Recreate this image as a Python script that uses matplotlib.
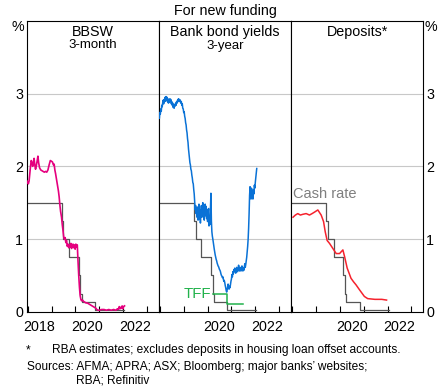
import matplotlib
matplotlib.use("Agg")
import matplotlib.pyplot as plt

plt.rcParams['font.family'] = ['Liberation Sans', 'DejaVu Sans']

# ---------------- data ----------------
panel_titles = ["BBSW", "Bank bond yields", "Deposits*"]
panel_subtitles = ["3-month", "3-year", ""]

cash_dates = [2017.96, 2019.42, 2019.50, 2019.74, 2020.15, 2020.21, 2020.27, 2020.83, 2022.05]
cash_vals = [1.5, 1.25, 1.0, 0.75, 0.5, 0.25, 0.14, 0.03, 0.03]

bbsw_dates = [2017.97, 2018.00, 2018.03, 2018.06, 2018.09, 2018.12, 2018.15, 2018.18, 2018.21,
              2018.24, 2018.27, 2018.30, 2018.33, 2018.36, 2018.40, 2018.43, 2018.46, 2018.50,
              2018.55, 2018.60, 2018.65, 2018.70, 2018.75, 2018.80, 2018.85, 2018.90, 2018.95,
              2019.00, 2019.04, 2019.08, 2019.11, 2019.14, 2019.17, 2019.20, 2019.23, 2019.26,
              2019.29, 2019.32, 2019.35, 2019.38, 2019.42, 2019.45, 2019.48, 2019.51, 2019.54,
              2019.57, 2019.60, 2019.63, 2019.66, 2019.69, 2019.72, 2019.75, 2019.78, 2019.81,
              2019.84, 2019.87, 2019.90, 2019.93, 2019.96, 2019.99, 2020.02, 2020.05, 2020.08,
              2020.11, 2020.14, 2020.17, 2020.20, 2020.23, 2020.26, 2020.30, 2020.35, 2020.40,
              2020.45, 2020.50, 2020.55, 2020.60, 2020.65, 2020.70, 2020.75, 2020.80, 2020.85,
              2020.90, 2020.95, 2021.00, 2021.10, 2021.20, 2021.30, 2021.40, 2021.50, 2021.60,
              2021.70, 2021.76, 2021.80, 2021.84, 2021.87, 2021.90, 2021.93, 2021.96, 2021.99,
              2022.02, 2022.06]
bbsw_vals = [1.80, 1.78, 1.76, 1.80, 1.90, 2.00, 2.08, 2.05, 2.00,
             2.06, 2.11, 2.02, 1.96, 2.00, 2.08, 2.14, 2.05, 1.98,
             1.95, 1.94, 1.93, 1.92, 1.93, 1.92, 1.95, 2.02, 2.08,
             2.07, 2.06, 2.02, 2.03, 1.95, 1.90, 1.84, 1.78, 1.72,
             1.66, 1.58, 1.47, 1.38, 1.30, 1.20, 1.12, 1.03, 1.00,
             1.02, 0.95, 0.98, 0.90, 0.93, 0.88, 0.92, 0.89, 0.94,
             0.87, 0.91, 0.93, 0.88, 0.92, 0.86, 0.93, 0.89, 0.92,
             0.70, 0.50, 0.34, 0.22, 0.17, 0.15, 0.16, 0.14, 0.13,
             0.12, 0.12, 0.11, 0.10, 0.09, 0.08, 0.07, 0.06, 0.05,
             0.03, 0.02, 0.02, 0.03, 0.03, 0.02, 0.03, 0.02, 0.03,
             0.02, 0.04, 0.03, 0.07, 0.04, 0.06, 0.05, 0.08, 0.04,
             0.07, 0.08]

bond_dates = [2017.96, 2017.98, 2018.00, 2018.02, 2018.04, 2018.06, 2018.08, 2018.10, 2018.12,
              2018.14, 2018.16, 2018.18, 2018.20, 2018.22, 2018.24, 2018.26, 2018.28, 2018.30,
              2018.32, 2018.34, 2018.36, 2018.38, 2018.40, 2018.42, 2018.44, 2018.46, 2018.48,
              2018.50, 2018.52, 2018.54, 2018.56, 2018.58, 2018.60, 2018.62, 2018.64, 2018.66,
              2018.68, 2018.70, 2018.72, 2018.74, 2018.76, 2018.78, 2018.80, 2018.82, 2018.84,
              2018.86, 2018.88, 2018.90, 2018.92, 2018.94, 2018.96, 2018.98, 2019.00, 2019.02,
              2019.04, 2019.06, 2019.08, 2019.10, 2019.12, 2019.14, 2019.16, 2019.18, 2019.20,
              2019.22, 2019.24, 2019.26, 2019.28, 2019.30, 2019.32, 2019.34, 2019.36, 2019.38,
              2019.40, 2019.42, 2019.44, 2019.46, 2019.48, 2019.50, 2019.52, 2019.54, 2019.56,
              2019.58, 2019.60, 2019.62, 2019.64, 2019.66, 2019.68, 2019.70, 2019.72, 2019.74,
              2019.76, 2019.78, 2019.80, 2019.82, 2019.84, 2019.86, 2019.88, 2019.90, 2019.92,
              2019.94, 2019.96, 2019.98, 2020.00, 2020.02, 2020.04, 2020.06, 2020.08, 2020.10,
              2020.12, 2020.14, 2020.16, 2020.18, 2020.20, 2020.22, 2020.24, 2020.26, 2020.28,
              2020.30, 2020.32, 2020.34, 2020.36, 2020.38, 2020.40, 2020.42, 2020.44, 2020.46,
              2020.48, 2020.50, 2020.52, 2020.54, 2020.56, 2020.58, 2020.60, 2020.62, 2020.64,
              2020.66, 2020.68, 2020.70, 2020.72, 2020.74, 2020.76, 2020.78, 2020.80, 2020.82,
              2020.84, 2020.86, 2020.88, 2020.90, 2020.92, 2020.94, 2020.96, 2020.98, 2021.00,
              2021.02, 2021.04, 2021.06, 2021.08, 2021.10, 2021.12, 2021.14, 2021.16, 2021.18,
              2021.20, 2021.22, 2021.24, 2021.26, 2021.28, 2021.30, 2021.32, 2021.34, 2021.36,
              2021.38, 2021.40, 2021.42, 2021.44, 2021.46, 2021.48, 2021.50, 2021.52, 2021.54,
              2021.56, 2021.58, 2021.60, 2021.62, 2021.64, 2021.66, 2021.68, 2021.70, 2021.72,
              2021.74, 2021.76, 2021.78, 2021.80, 2021.82, 2021.84, 2021.86, 2021.88, 2021.90,
              2021.92, 2021.94, 2021.96, 2021.98, 2022.00, 2022.02, 2022.04, 2022.06]
bond_vals = [2.70, 2.66, 2.74, 2.72, 2.79, 2.76, 2.84, 2.82, 2.88,
             2.91, 2.86, 2.92, 2.89, 2.95, 2.90, 2.96, 2.93, 2.95,
             2.89, 2.93, 2.87, 2.91, 2.88, 2.93, 2.90, 2.92, 2.86,
             2.89, 2.84, 2.87, 2.81, 2.84, 2.80, 2.85, 2.83, 2.87,
             2.84, 2.89, 2.87, 2.91, 2.89, 2.93, 2.90, 2.92, 2.89,
             2.91, 2.87, 2.89, 2.84, 2.86, 2.80, 2.79, 2.74, 2.75,
             2.69, 2.66, 2.60, 2.57, 2.50, 2.46, 2.38, 2.33, 2.24,
             2.18, 2.12, 2.05, 2.02, 1.96, 1.94, 1.88, 1.84, 1.78,
             1.76, 1.68, 1.62, 1.52, 1.40, 1.46, 1.35, 1.42, 1.30,
             1.44, 1.26, 1.38, 1.48, 1.28, 1.40, 1.22, 1.36, 1.46,
             1.30, 1.42, 1.50, 1.33, 1.44, 1.26, 1.39, 1.48, 1.32,
             1.45, 1.28, 1.40, 1.24, 1.35, 1.42, 1.18, 1.30, 1.20,
             1.40, 1.63, 1.25, 1.10, 1.04, 1.00, 0.95, 0.90, 0.86,
             0.82, 0.78, 0.75, 0.72, 0.70, 0.67, 0.65, 0.63, 0.62,
             0.60, 0.58, 0.57, 0.55, 0.52, 0.50, 0.49, 0.47, 0.48,
             0.45, 0.42, 0.43, 0.40, 0.36, 0.33, 0.29, 0.27, 0.30,
             0.34, 0.38, 0.33, 0.31, 0.35, 0.33, 0.38, 0.42, 0.45,
             0.51, 0.48, 0.55, 0.52, 0.58, 0.55, 0.60, 0.56, 0.53,
             0.57, 0.61, 0.58, 0.55, 0.60, 0.64, 0.59, 0.56, 0.61,
             0.58, 0.56, 0.60, 0.63, 0.58, 0.56, 0.60, 0.57, 0.62,
             0.66, 0.61, 0.65, 0.70, 0.75, 0.82, 0.90, 1.00, 1.15,
             1.35, 1.60, 1.72, 1.65, 1.55, 1.70, 1.58, 1.64, 1.55,
             1.68, 1.62, 1.74, 1.70, 1.78, 1.84, 1.90, 1.97]

tff_dates = [2020.24, 2020.83, 2021.48]
tff_vals = [0.25, 0.10, 0.10]

dep_dates = [2018.04, 2018.14, 2018.24, 2018.35, 2018.45, 2018.59, 2018.73, 2018.84, 2018.94,
             2019.08, 2019.22, 2019.32, 2019.39, 2019.47, 2019.57, 2019.71, 2019.85, 2019.99,
             2020.13, 2020.20, 2020.31, 2020.47, 2020.58, 2020.68, 2020.83, 2021.03, 2021.17,
             2021.47, 2021.76, 2021.96]
dep_vals = [1.30, 1.33, 1.35, 1.33, 1.34, 1.35, 1.33, 1.35, 1.37,
            1.40, 1.33, 1.24, 1.10, 0.98, 0.94, 0.87, 0.80, 0.80,
            0.85, 0.76, 0.60, 0.46, 0.41, 0.37, 0.30, 0.21, 0.18,
            0.17, 0.17, 0.16]

ytick_vals = [0, 1, 2, 3]
year_ticks = [2018, 2019, 2020, 2021, 2022, 2023]
year_labels_by_panel = [["2018", "2020", "2022"], ["2020", "2022"], ["2020", "2022"]]

# ---------------- figure ----------------
W, H = 440, 389
fig = plt.figure(figsize=(W / 100, H / 100), dpi=100)

def fx(px):
    return px / W

def fy(py):
    return 1 - py / H

x_left, x_w = 26.7, 132.2
y_top, y_bot = 21.0, 311.7

pink = '#E5007E'
blue = '#0A72D6'
red = '#F5222D'
green = '#22B24C'
cash_col = '#555555'
grid_col = '#C8C8C8'

axes = []
for i in range(3):
    ax = fig.add_axes([fx(x_left + i * x_w), fy(y_bot), fx(x_w), (y_bot - y_top) / H])
    ax.set_xlim(2017.96, 2023.5)
    ax.set_ylim(0, 4)
    for s in ax.spines.values():
        s.set_color('black')
        s.set_linewidth(0.8)
    for g in [1, 2, 3]:
        ax.axhline(g, color=grid_col, lw=0.8, zorder=0)
    ax.set_xticks(year_ticks)
    ax.set_xticklabels([])
    ax.tick_params(axis='x', which='major', direction='in', length=4, width=0.8, color='black')
    labs = year_labels_by_panel[i]
    ax.set_xticks([int(l) + 0.5 for l in labs], minor=True)
    ax.set_xticklabels(labs, minor=True, fontsize=10.3)
    ax.tick_params(axis='x', which='minor', length=0, pad=6)
    ax.set_yticks(ytick_vals)
    if i == 0:
        ax.set_yticklabels([str(v) for v in ytick_vals], fontsize=10.3)
        ax.tick_params(axis='y', length=0, pad=2.5, left=True, labelleft=True)
    elif i == 2:
        ax.yaxis.tick_right()
        ax.set_yticklabels([str(v) for v in ytick_vals], fontsize=10.3)
        ax.tick_params(axis='y', length=0, pad=2)
    else:
        ax.set_yticklabels([])
        ax.tick_params(axis='y', length=0)
    ax.plot(cash_dates, cash_vals, drawstyle='steps-post', color=cash_col, lw=0.9, zorder=2)
    axes.append(ax)

ax1, ax2, ax3 = axes
ax1.plot(bbsw_dates, bbsw_vals, color=pink, lw=1.2, zorder=3)
ax2.plot(bond_dates, bond_vals, color=blue, lw=1.1, zorder=3)
ax2.plot(tff_dates, tff_vals, drawstyle='steps-post', color=green, lw=1.1, zorder=3)
ax2.text(2020.15, 0.25, 'TFF', color=green, fontsize=10.8, ha='right', va='center')
ax3.plot(dep_dates, dep_vals, color=red, lw=1.1, zorder=3)
ax3.text(2018.02, 1.52, 'Cash rate', color='#7F7F7F', fontsize=10.5, ha='left', va='bottom')

# panel titles
for i in range(3):
    cx = x_left + (i + 0.5) * x_w
    fig.text(fx(cx), fy(32), panel_titles[i], ha='center', va='center', fontsize=10.3)
    if panel_subtitles[i]:
        fig.text(fx(cx), fy(45.5), panel_subtitles[i], ha='center', va='center', fontsize=9.5)

# main title
fig.text(fx(225), fy(10.5), 'For new funding', ha='center', va='center', fontsize=10.3)

# % units
fig.text(fx(17.7), fy(27), '%', ha='center', va='center', fontsize=10.3)
fig.text(fx(431), fy(27), '%', ha='center', va='center', fontsize=10.3)

# footnotes
fn = 8.6
fig.text(fx(26), fy(350), '*', ha='left', va='center', fontsize=fn)
fig.text(fx(51.7), fy(350), 'RBA estimates; excludes deposits in housing loan offset accounts.',
         ha='left', va='center', fontsize=fn)
fig.text(fx(26.7), fy(366.7), 'Sources: AFMA; APRA; ASX; Bloomberg; major banks\u2019 websites;',
         ha='left', va='center', fontsize=fn)
fig.text(fx(76), fy(380.7), 'RBA; Refinitiv', ha='left', va='center', fontsize=fn)

fig.savefig('out.png', dpi=100)
